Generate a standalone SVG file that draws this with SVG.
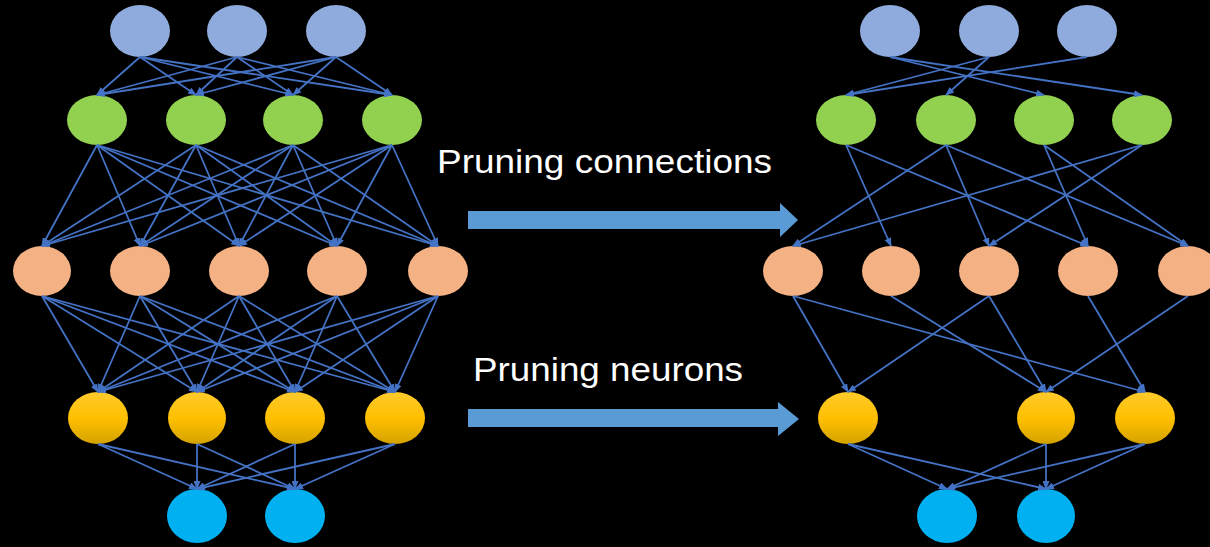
<svg xmlns="http://www.w3.org/2000/svg" width="1210" height="547" viewBox="0 0 1210 547">
<defs>
<linearGradient id="gold" x1="0" y1="0" x2="0" y2="1">
<stop offset="0" stop-color="#FFCA2C"/>
<stop offset="0.5" stop-color="#FFC000"/>
<stop offset="1" stop-color="#D4A200"/>
</linearGradient>
<marker id="ah" markerUnits="userSpaceOnUse" markerWidth="9" markerHeight="7" refX="8" refY="3.5" orient="auto">
<path d="M0,0 L9,3.5 L0,7 z" fill="#4472C4"/>
</marker>
<style>
.l1{fill:#8FAADC}
.l2{fill:#92D050}
.l3{fill:#F4B183}
.l4{fill:url(#gold)}
.l5{fill:#00B0F0}
.e line{stroke:#4472C4;stroke-width:1.8;marker-end:url(#ah)}
.big{fill:#5B9BD5}
.lbl{font-family:"Liberation Sans",Arial,sans-serif;font-size:34px;fill:#FFFFFF}
</style>
</defs>
<rect width="1210" height="547" fill="#000000"/>

<g id="left-network">
<g id="L-in-1"><ellipse class="l1" cx="140" cy="31" rx="30" ry="26"/></g>
<g id="L-in-2"><ellipse class="l1" cx="237" cy="31" rx="30" ry="26"/></g>
<g id="L-in-3"><ellipse class="l1" cx="336" cy="31" rx="30" ry="26"/></g>
<g id="L-h1-1"><ellipse class="l2" cx="97" cy="120" rx="30" ry="25"/></g>
<g id="L-h1-2"><ellipse class="l2" cx="196" cy="120" rx="30" ry="25"/></g>
<g id="L-h1-3"><ellipse class="l2" cx="293" cy="120" rx="30" ry="25"/></g>
<g id="L-h1-4"><ellipse class="l2" cx="392" cy="120" rx="30" ry="25"/></g>
<g id="L-h2-1"><ellipse class="l3" cx="42" cy="271" rx="29" ry="25"/></g>
<g id="L-h2-2"><ellipse class="l3" cx="140" cy="271" rx="30" ry="25"/></g>
<g id="L-h2-3"><ellipse class="l3" cx="239" cy="271" rx="30" ry="25"/></g>
<g id="L-h2-4"><ellipse class="l3" cx="337" cy="271" rx="30" ry="25"/></g>
<g id="L-h2-5"><ellipse class="l3" cx="438" cy="271" rx="30" ry="25"/></g>
<g id="L-h3-1"><ellipse class="l4" cx="98" cy="418" rx="30" ry="26"/></g>
<g id="L-h3-2"><ellipse class="l4" cx="197" cy="418" rx="29" ry="26"/></g>
<g id="L-h3-3"><ellipse class="l4" cx="295" cy="418" rx="30" ry="26"/></g>
<g id="L-h3-4"><ellipse class="l4" cx="395" cy="418" rx="30" ry="26"/></g>
<g id="L-out-1"><ellipse class="l5" cx="197" cy="516" rx="30" ry="27"/></g>
<g id="L-out-2"><ellipse class="l5" cx="295" cy="516" rx="30" ry="27"/></g>
</g>

<g id="right-network">
<g id="R-in-1"><ellipse class="l1" cx="890" cy="31" rx="30" ry="26"/></g>
<g id="R-in-2"><ellipse class="l1" cx="989" cy="31" rx="30" ry="26"/></g>
<g id="R-in-3"><ellipse class="l1" cx="1087" cy="31" rx="30" ry="26"/></g>
<g id="R-h1-1"><ellipse class="l2" cx="846" cy="120" rx="30" ry="25"/></g>
<g id="R-h1-2"><ellipse class="l2" cx="946" cy="120" rx="30" ry="25"/></g>
<g id="R-h1-3"><ellipse class="l2" cx="1044" cy="120" rx="30" ry="25"/></g>
<g id="R-h1-4"><ellipse class="l2" cx="1142" cy="120" rx="30" ry="25"/></g>
<g id="R-h2-1"><ellipse class="l3" cx="793" cy="271" rx="30" ry="25"/></g>
<g id="R-h2-2"><ellipse class="l3" cx="891" cy="271" rx="29" ry="25"/></g>
<g id="R-h2-3"><ellipse class="l3" cx="989" cy="271" rx="30" ry="25"/></g>
<g id="R-h2-4"><ellipse class="l3" cx="1088" cy="271" rx="30" ry="25"/></g>
<g id="R-h2-5"><ellipse class="l3" cx="1188" cy="271" rx="30" ry="25"/></g>
<g id="R-h3-1"><ellipse class="l4" cx="848" cy="418" rx="30" ry="26"/></g>
<g id="R-h3-3"><ellipse class="l4" cx="1046" cy="418" rx="29" ry="26"/></g>
<g id="R-h3-4"><ellipse class="l4" cx="1145" cy="418" rx="30" ry="26"/></g>
<g id="R-out-1"><ellipse class="l5" cx="947" cy="516" rx="30" ry="27"/></g>
<g id="R-out-2"><ellipse class="l5" cx="1046" cy="516" rx="29" ry="27"/></g>
</g>

<g id="connectors" class="e">
<!-- left L1->L2 -->
<line x1="140" y1="57" x2="97" y2="95"/><line x1="140" y1="57" x2="196" y2="95"/><line x1="140" y1="57" x2="293" y2="95"/><line x1="140" y1="57" x2="392" y2="95"/>
<line x1="237" y1="57" x2="97" y2="95"/><line x1="237" y1="57" x2="196" y2="95"/><line x1="237" y1="57" x2="293" y2="95"/><line x1="237" y1="57" x2="392" y2="95"/>
<line x1="336" y1="57" x2="97" y2="95"/><line x1="336" y1="57" x2="196" y2="95"/><line x1="336" y1="57" x2="293" y2="95"/><line x1="336" y1="57" x2="392" y2="95"/>
<!-- left L2->L3 -->
<line x1="97" y1="145" x2="42" y2="246"/><line x1="97" y1="145" x2="140" y2="246"/><line x1="97" y1="145" x2="239" y2="246"/><line x1="97" y1="145" x2="337" y2="246"/><line x1="97" y1="145" x2="438" y2="246"/>
<line x1="196" y1="145" x2="42" y2="246"/><line x1="196" y1="145" x2="140" y2="246"/><line x1="196" y1="145" x2="239" y2="246"/><line x1="196" y1="145" x2="337" y2="246"/><line x1="196" y1="145" x2="438" y2="246"/>
<line x1="293" y1="145" x2="42" y2="246"/><line x1="293" y1="145" x2="140" y2="246"/><line x1="293" y1="145" x2="239" y2="246"/><line x1="293" y1="145" x2="337" y2="246"/><line x1="293" y1="145" x2="438" y2="246"/>
<line x1="392" y1="145" x2="42" y2="246"/><line x1="392" y1="145" x2="140" y2="246"/><line x1="392" y1="145" x2="239" y2="246"/><line x1="392" y1="145" x2="337" y2="246"/><line x1="392" y1="145" x2="438" y2="246"/>
<!-- left L3->L4 -->
<line x1="42" y1="296" x2="98" y2="392"/><line x1="42" y1="296" x2="197" y2="392"/><line x1="42" y1="296" x2="295" y2="392"/><line x1="42" y1="296" x2="395" y2="392"/>
<line x1="140" y1="296" x2="98" y2="392"/><line x1="140" y1="296" x2="197" y2="392"/><line x1="140" y1="296" x2="295" y2="392"/><line x1="140" y1="296" x2="395" y2="392"/>
<line x1="239" y1="296" x2="98" y2="392"/><line x1="239" y1="296" x2="197" y2="392"/><line x1="239" y1="296" x2="295" y2="392"/><line x1="239" y1="296" x2="395" y2="392"/>
<line x1="337" y1="296" x2="98" y2="392"/><line x1="337" y1="296" x2="197" y2="392"/><line x1="337" y1="296" x2="295" y2="392"/><line x1="337" y1="296" x2="395" y2="392"/>
<line x1="438" y1="296" x2="98" y2="392"/><line x1="438" y1="296" x2="197" y2="392"/><line x1="438" y1="296" x2="295" y2="392"/><line x1="438" y1="296" x2="395" y2="392"/>
<!-- left L4->L5 -->
<line x1="98" y1="444" x2="197" y2="489"/><line x1="98" y1="444" x2="295" y2="489"/>
<line x1="197" y1="444" x2="197" y2="489"/><line x1="197" y1="444" x2="295" y2="489"/>
<line x1="295" y1="444" x2="197" y2="489"/><line x1="295" y1="444" x2="295" y2="489"/>
<line x1="395" y1="444" x2="197" y2="489"/><line x1="395" y1="444" x2="295" y2="489"/>
<!-- right L1->L2 -->
<line x1="890" y1="57" x2="1044" y2="95"/><line x1="890" y1="57" x2="1142" y2="95"/>
<line x1="989" y1="57" x2="946" y2="95"/><line x1="989" y1="57" x2="846" y2="95"/>
<line x1="1087" y1="57" x2="846" y2="95"/>
<!-- right L2->L3 -->
<line x1="846" y1="145" x2="891" y2="246"/><line x1="846" y1="145" x2="1088" y2="246"/>
<line x1="946" y1="145" x2="793" y2="246"/><line x1="946" y1="145" x2="989" y2="246"/><line x1="946" y1="145" x2="1188" y2="246"/>
<line x1="1044" y1="145" x2="1088" y2="246"/><line x1="1044" y1="145" x2="1188" y2="246"/>
<line x1="1142" y1="145" x2="793" y2="246"/><line x1="1142" y1="145" x2="989" y2="246"/>
<!-- right L3->L4 -->
<line x1="793" y1="296" x2="848" y2="392"/><line x1="793" y1="296" x2="1145" y2="392"/>
<line x1="891" y1="296" x2="1046" y2="392"/>
<line x1="989" y1="296" x2="848" y2="392"/><line x1="989" y1="296" x2="1046" y2="392"/>
<line x1="1088" y1="296" x2="1145" y2="392"/>
<line x1="1188" y1="296" x2="1046" y2="392"/>
<!-- right L4->L5 -->
<line x1="848" y1="444" x2="947" y2="489"/><line x1="848" y1="444" x2="1046" y2="489"/>
<line x1="1046" y1="444" x2="947" y2="489"/><line x1="1046" y1="444" x2="1046" y2="489"/>
<line x1="1145" y1="444" x2="947" y2="489"/><line x1="1145" y1="444" x2="1046" y2="489"/>
</g>

<g id="pruning-connections">
<polygon class="big" points="468,211 780,211 780,203 798,220 780,237 780,229 468,229"/>
<text class="lbl" x="437" y="173" textLength="335" lengthAdjust="spacingAndGlyphs">Pruning connections</text>
</g>
<g id="pruning-neurons">
<polygon class="big" points="468,409 778,409 778,402 799,419 778,436 778,427 468,427"/>
<text class="lbl" x="473" y="381" textLength="270" lengthAdjust="spacingAndGlyphs">Pruning neurons</text>
</g>
</svg>
